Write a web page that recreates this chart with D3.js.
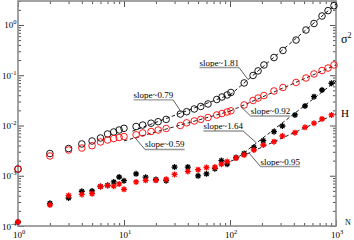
<!DOCTYPE html>
<html>
<head>
<meta charset="utf-8">
<script src="https://cdn.jsdelivr.net/npm/d3@7"></script>
<style>
body { margin: 0; background: #fff; }
text { font-family: "Liberation Serif", "Times New Roman", serif; fill: #000; }
</style>
</head>
<body>
<div class="chart"></div>
<script>
const w = 354;
const h = 240;

// sigma^2 (circles)
const nCircle = [1, 2, 3, 4, 5, 6, 7, 8, 9, 10, 13, 15, 18, 21, 25, 34, 39, 46, 53, 62, 75, 84, 94, 102,
  136, 165, 184, 209, 260, 316, 420, 521, 620, 738, 841, 957];
const sigmaBlack = [1.36e-3, 2.77e-3, 3.48e-3, 4.29e-3, 4.92e-3, 5.64e-3, 6.78e-3, 7.43e-3, 8.13e-3, 8.79e-3,
  9.55e-3, 1.02e-2, 1.11e-2, 1.19e-2, 1.32e-2, 1.69e-2, 1.88e-2, 2.13e-2, 2.39e-2, 2.68e-2, 3.29e-2, 3.69e-2, 4.05e-2, 4.54e-2,
  7.02e-2, 9.89e-2, 0.122, 0.160, 0.225, 0.311, 0.502, 0.794, 1.07, 1.51, 1.93, 2.42];
const sigmaRed = [1.36e-3, 2.47e-3, 3.25e-3, 3.56e-3, 3.96e-3, 4.70e-3, 5.14e-3, 5.51e-3, 5.77e-3, 6.04e-3,
  6.53e-3, 7.10e-3, 7.60e-3, 8.13e-3, 8.71e-3, 1.00e-2, 1.13e-2, 1.23e-2, 1.32e-2, 1.44e-2, 1.62e-2, 1.73e-2, 1.86e-2, 1.96e-2,
  2.56e-2, 3.15e-2, 3.52e-2, 3.95e-2, 4.86e-2, 5.71e-2, 7.18e-2, 8.81e-2, 0.106, 0.124, 0.139, 0.160];

// H (stars)
const nStar = [1, 2, 3, 4, 5, 6, 7, 8, 9, 10, 13, 16, 20, 25, 30, 40, 50, 60, 72, 83, 94, 114,
  136, 168, 206, 260, 312, 410, 510, 620, 738, 907];
const hBlack = [1.20e-4, 2.83e-4, 3.61e-4, 4.91e-4, 4.98e-4, 6.11e-4, 6.46e-4, 7.52e-4, 9.44e-4, 7.96e-4,
  1.09e-3, 9.35e-4, 8.41e-4, 7.96e-4, 1.49e-3, 1.49e-3, 9.97e-4, 1.09e-3, 1.38e-3, 2.00e-3, 1.70e-3, 2.31e-3,
  2.77e-3, 3.68e-3, 4.99e-3, 7.53e-3, 9.77e-3, 1.62e-2, 2.44e-2, 3.74e-2, 5.08e-2, 6.92e-2];
const hRed = [1.20e-4, 2.62e-4, 4.05e-4, 4.24e-4, 4.40e-4, 6.11e-4, 6.40e-4, 6.19e-4, 6.86e-4, 5.37e-4,
  7.52e-4, 8.11e-4, 8.11e-4, 8.53e-4, 1.06e-3, 1.22e-3, 1.32e-3, 1.46e-3, 1.49e-3, 1.70e-3, 1.92e-3, 2.25e-3,
  2.59e-3, 3.25e-3, 4.09e-3, 4.77e-3, 6.18e-3, 7.19e-3, 9.20e-3, 1.11e-2, 1.35e-2, 1.62e-2];

// power-law fits: v = refV * (n / refN)^slope, drawn from fitFrom to fitTo
const fitSlopes = [0.79, 0.59, 1.81, 0.92, 1.64, 0.95];
const fitFrom = [12, 10, 100, 100, 110, 90];
const fitTo = [105, 100, 1000, 1000, 1000, 1000];
const fitRefN = [40, 30, 500, 500, 500, 500];
const fitRefV = [0.01995, 0.009462, 0.743, 0.0849, 0.02443, 0.00883];
const slopeLabels = ["slope~0.79", "slope~0.59", "slope~1.81", "slope~0.92", "slope~1.64", "slope~0.95"];
const labelTouchN = [35, 12.7, 148, 126, 178, 151];

const xTicks = [1, 10, 100, 1000];
const xExp = ["0", "1", "2", "3"];
const yTicks = [1e-4, 1e-3, 1e-2, 1e-1, 1];
const yExp = ["-4", "-3", "-2", "-1", "0"];

const svg = d3.select(".chart")
  .append("svg")
  .attr("width", w)
  .attr("height", h);

const x = d3.scaleLog().domain([1, 1000]).range([18, 336]);
const y = d3.scaleLog().domain([1e-4, 3]).range([226, 1]);

function minors(lo, hi) {
  const out = [];
  for (let d = lo; d < hi * 0.999; d *= 10)
    for (let k = 2; k < 10; k++) if (d * k <= hi * 1.0001) out.push(d * k);
  return out;
}
const xMinor = minors(1, 1000);
const yMinor = minors(1e-4, 3);

// ticks, inward on all sides
const tickCol = "#555";
function ticks(axis, vals, size, tr) {
  const g = svg.append("g").attr("transform", tr)
    .call(axis.tickValues(vals).tickSize(size).tickFormat(""));
  g.select(".domain").remove();
  g.selectAll("line").attr("stroke", tickCol).attr("stroke-width", 1);
}
ticks(d3.axisBottom(x), xTicks, -6, "translate(0,226)");
ticks(d3.axisBottom(x), xMinor, -3, "translate(0,226)");
ticks(d3.axisTop(x), xTicks, -6, "translate(0,1)");
ticks(d3.axisTop(x), xMinor, -3, "translate(0,1)");
ticks(d3.axisLeft(y), yTicks, -6, "translate(18,0)");
ticks(d3.axisLeft(y), yMinor, -3, "translate(18,0)");
ticks(d3.axisRight(y), yTicks, -6, "translate(336,0)");
ticks(d3.axisRight(y), yMinor, -3, "translate(336,0)");

// frame
svg.append("rect")
  .attr("x", 18).attr("y", 1)
  .attr("width", 318).attr("height", 225)
  .attr("fill", "none")
  .attr("stroke", "#8c8c8c")
  .attr("stroke-width", 1.6);

// tick labels with superscript exponents
function powLabel(sel, exp) {
  sel.append("tspan").text("10");
  sel.append("tspan").attr("dy", -4).attr("font-size", 6.5).text(exp);
}
xTicks.forEach((v, i) => {
  svg.append("text")
    .attr("x", x(v) + 1).attr("y", 238)
    .attr("font-size", 9)
    .attr("text-anchor", "middle")
    .call(powLabel, xExp[i]);
});
yTicks.forEach((v, i) => {
  svg.append("text")
    .attr("x", 16.5).attr("y", y(v) + 3.5)
    .attr("font-size", 9)
    .attr("text-anchor", "end")
    .call(powLabel, yExp[i]);
});

// fit lines
const line = d3.line().x(d => x(d[0])).y(d => y(d[1]));
fitSlopes.forEach((s, i) => {
  const f = n => fitRefV[i] * Math.pow(n / fitRefN[i], s);
  svg.append("path")
    .attr("d", line([[fitFrom[i], f(fitFrom[i])], [fitTo[i], f(fitTo[i])]]))
    .attr("fill", "none")
    .attr("stroke", "#000")
    .attr("stroke-width", 0.9)
    .attr("stroke-dasharray", "3.5,2.5");
});

// circles
function circles(vals, col) {
  svg.append("g").selectAll("circle")
    .data(vals)
    .enter().append("circle")
    .attr("cx", (d, i) => x(nCircle[i]))
    .attr("cy", d => y(d))
    .attr("r", 3.3)
    .attr("fill", "none")
    .attr("stroke", col)
    .attr("stroke-width", 0.9);
}
circles(sigmaBlack, "#000");
circles(sigmaRed, "#ff0000");

// asterisk markers
const r = 3;
const starPath = d3.range(4).map(k => {
  const a = k * Math.PI / 4;
  const dx = r * Math.cos(a), dy = r * Math.sin(a);
  return `M${-dx},${-dy}L${dx},${dy}`;
}).join("");
function stars(vals, col) {
  svg.append("g").selectAll("path")
    .data(vals)
    .enter().append("path")
    .attr("transform", (d, i) => `translate(${x(nStar[i])},${y(d)})`)
    .attr("d", starPath)
    .attr("stroke", col)
    .attr("stroke-width", 1.3);
}
stars(hBlack, "#000");
stars(hRed, "#ff0000");

// slope annotations: underline end offset (dx, dy) from the point where the leader touches the fit
const labelSide = ["end", "start", "end", "start", "end", "start"];
const labelDx = [-8.5, 10, -9, 10, -13.5, 11.5];
const labelDy = [-12.8, 11.7, -12, 9.5, -12, 13.5];
slopeLabels.forEach((t, i) => {
  const n = labelTouchN[i];
  const v = fitRefV[i] * Math.pow(n / fitRefN[i], fitSlopes[i]);
  const px = x(n), py = y(v);
  const ux = px + labelDx[i], uy = py + labelDy[i];
  const txt = svg.append("text")
    .attr("x", ux).attr("y", uy - 2)
    .attr("font-size", 9)
    .attr("text-anchor", labelSide[i])
    .text(t);
  const tw = txt.node().getComputedTextLength();
  const x0 = labelSide[i] === "end" ? ux - tw : ux;
  svg.append("line")
    .attr("x1", x0).attr("x2", x0 + tw)
    .attr("y1", uy).attr("y2", uy)
    .attr("stroke", "#999").attr("stroke-width", 1.4);
  svg.append("line")
    .attr("x1", ux).attr("y1", uy)
    .attr("x2", px).attr("y2", py)
    .attr("stroke", "#333").attr("stroke-width", 0.8);
});

// series labels at the right
svg.append("text").attr("x", 341).attr("y", 43).attr("font-size", 12)
  .call(s => { s.append("tspan").text("σ"); s.append("tspan").attr("dy", -5).attr("font-size", 8).text("2"); });
svg.append("text").attr("x", 341).attr("y", 117).attr("font-size", 11).text("H");
svg.append("text").attr("x", 345).attr("y", 225).attr("font-size", 8).text("N");
</script>
</body>
</html>
